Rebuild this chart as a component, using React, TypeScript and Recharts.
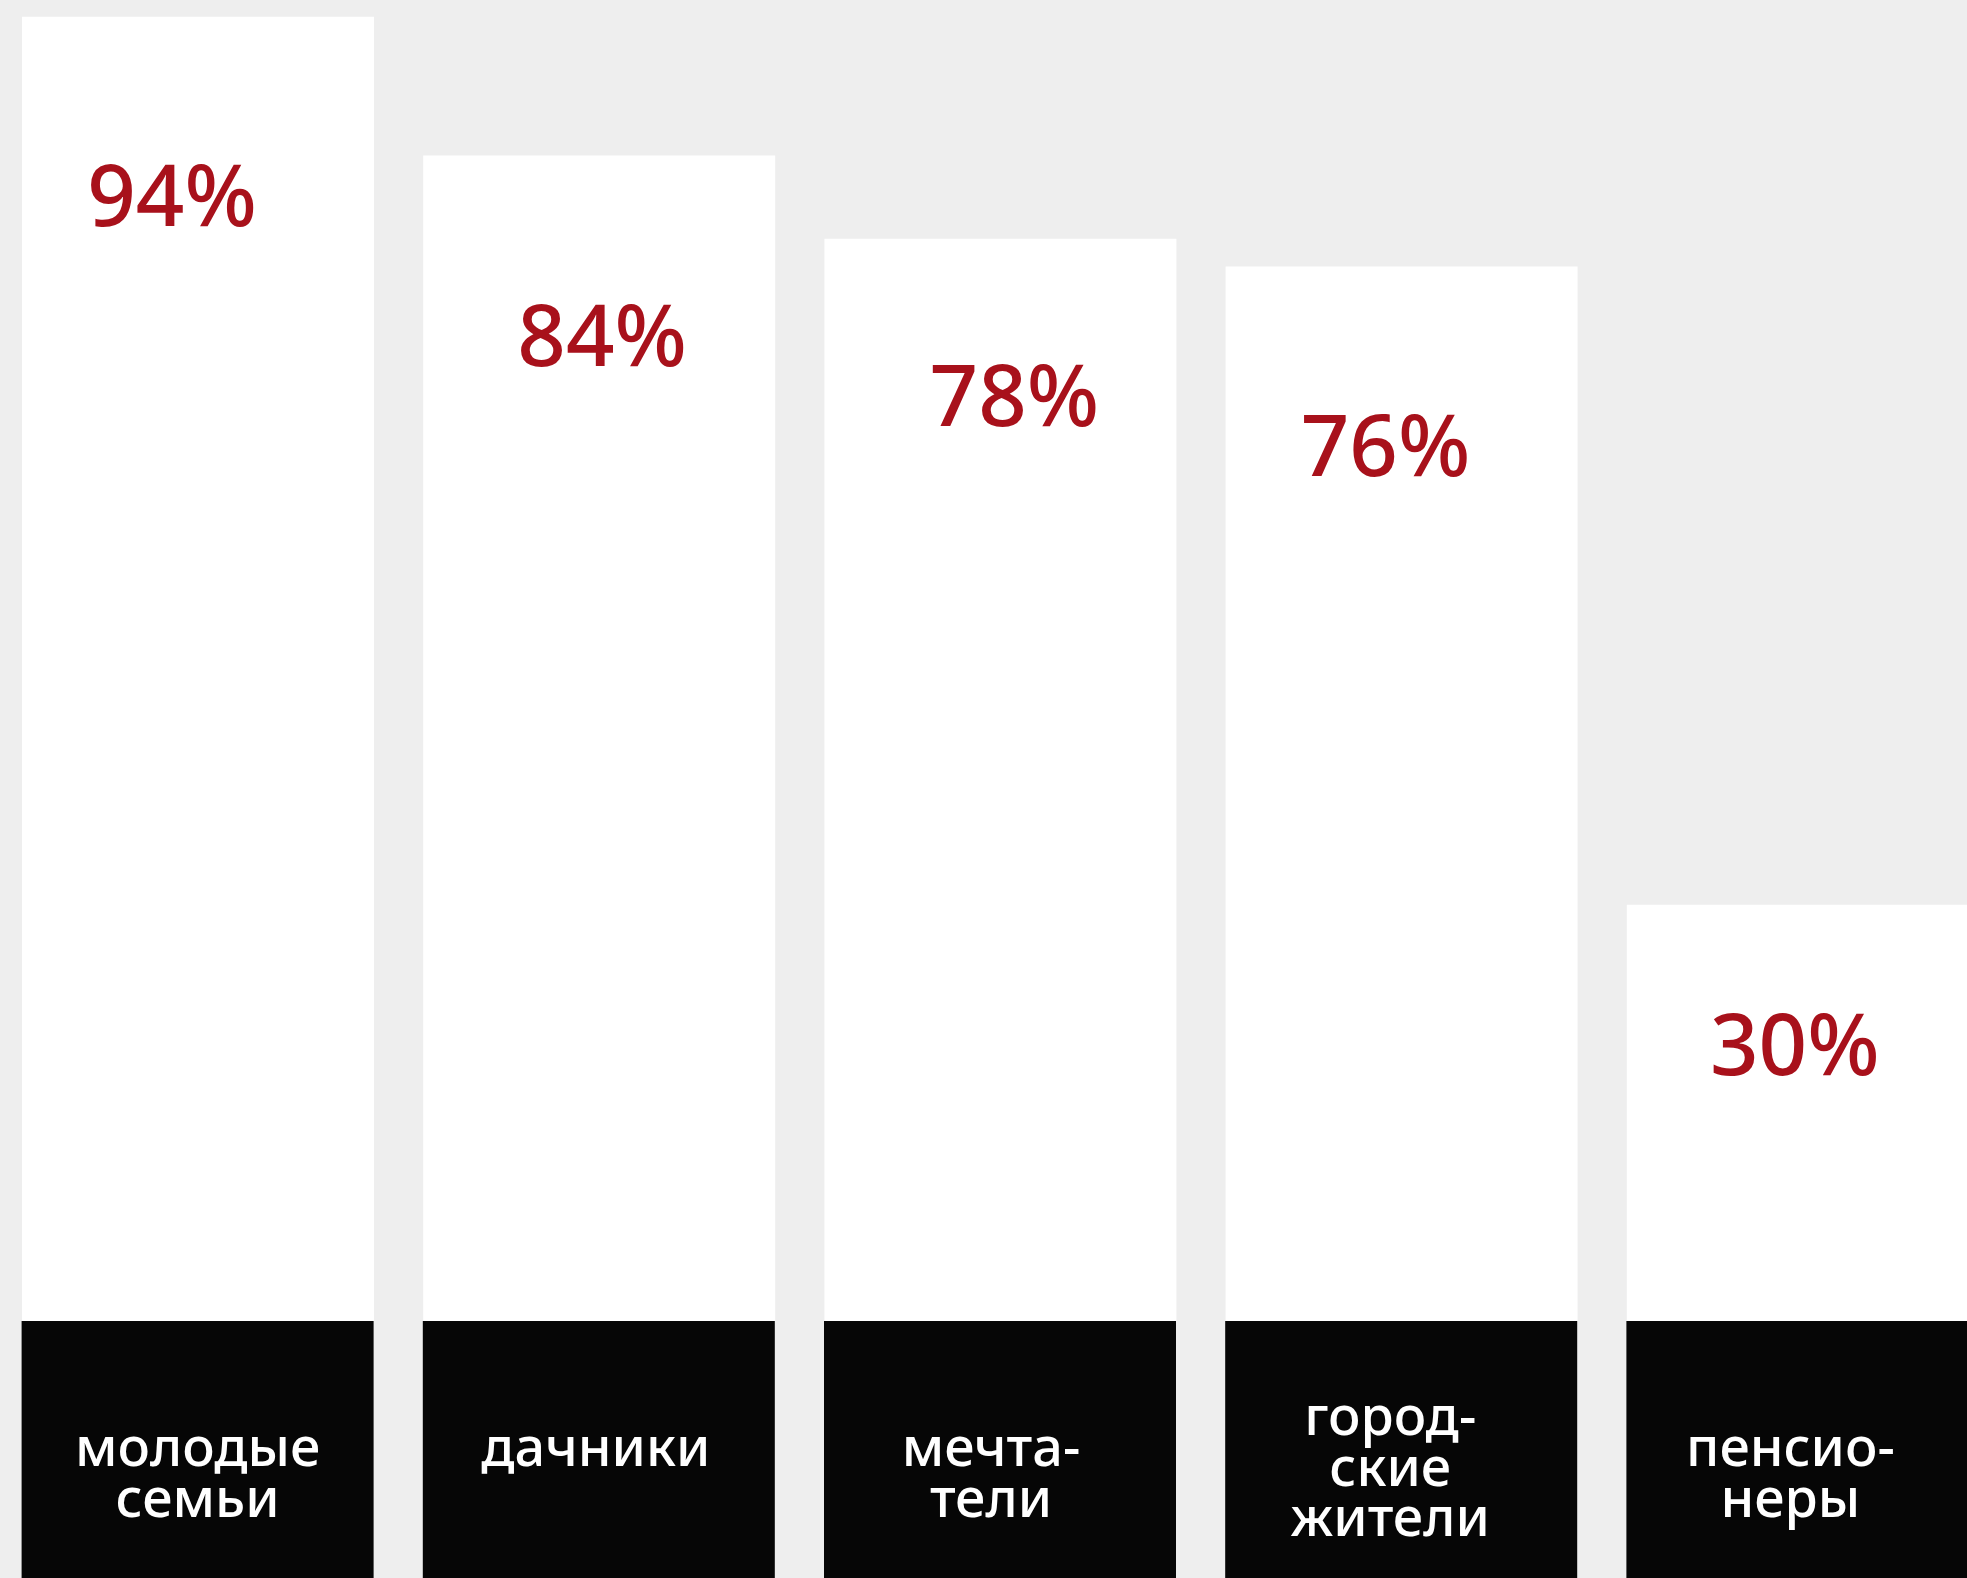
import React from "react";
import { BarChart, Bar, XAxis, YAxis, LabelList } from "recharts";

// groups of buyers, share in %
const groups = [
  ["молодые", "семьи"],
  ["дачники"],
  ["мечта-", "тели"],
  ["город-", "ские", "жители"],
  ["пенсио-", "неры"],
];
const shares = [94, 84, 78, 76, 30];
const shareLabels = ["94%", "84%", "78%", "76%", "30%"];

// small hand nudges for the labels, as in the original layout
const valueNudgeX = [-26, 3, 14, -16, -8];
const valueNudgeY = [209, 211, 187, 210, 170];
const tickNudgeX = [0, -3, -9, -11, -12];

const data = groups.map((lines, i) => ({
  name: lines.join(" "),
  lines,
  share: shares[i],
  label: shareLabels[i],
}));

const BAR = 352;
const BASE_H = 257;
const RED = "#a8111b";
const FONT = "'Noto Sans', 'Open Sans', sans-serif";

function GroupTick(props: any) {
  const { x, y, index } = props;
  const lines: string[] = data[index].lines;
  const first = y + 145 - Math.max(0, lines.length - 2) * 31;
  return (
    <g>
      <rect x={x - BAR / 2} y={y} width={BAR} height={BASE_H} fill="#060606" />
      <text
        textAnchor="middle"
        fill="#fff"
        fontFamily={FONT}
        fontSize={54}
        fontWeight={500}
      >
        {lines.map((l, k) => (
          <tspan key={k} x={x + tickNudgeX[index]} y={first + k * 50.5}>
            {l}
          </tspan>
        ))}
      </text>
    </g>
  );
}

function ShareLabel(props: any) {
  const { x, y, width, index } = props;
  return (
    <text
      x={x + width / 2 + valueNudgeX[index]}
      y={y + valueNudgeY[index]}
      textAnchor="middle"
      fill={RED}
      fontFamily={FONT}
      fontSize={85}
      fontWeight={500}
    >
      {data[index].label}
    </text>
  );
}

export default function App() {
  return (
    <div
      style={{
        position: "absolute",
        left: 0,
        top: 0,
        width: 1967,
        height: 1578,
        overflow: "hidden",
        background: "#eeeeee",
      }}
    >
      <div style={{ position: "absolute", left: -3, top: 0 }}>
        <BarChart
          width={2006}
          height={1578}
          data={data}
          margin={{ top: 0, right: 0, bottom: 0, left: 0 }}
          barSize={BAR}
        >
          <XAxis
            dataKey="name"
            height={BASE_H}
            axisLine={false}
            tickLine={false}
            tickSize={0}
            tickMargin={0}
            interval={0}
            tick={<GroupTick />}
          />
          <YAxis hide domain={[0, 95.2]} />
          <Bar dataKey="share" fill="#ffffff" isAnimationActive={false}>
            <LabelList dataKey="label" content={<ShareLabel />} />
          </Bar>
        </BarChart>
      </div>
    </div>
  );
}
